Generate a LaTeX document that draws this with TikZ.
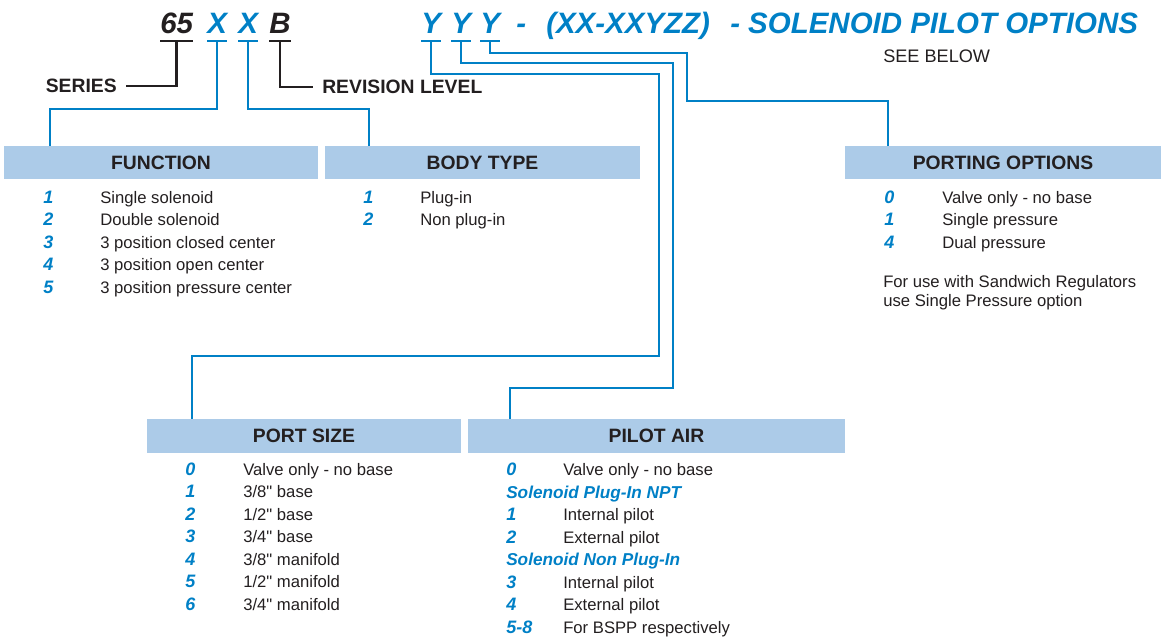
\documentclass[tikz,border=0pt]{standalone}
\usepackage{fontspec}
\setmainfont{Liberation Sans}[Ligatures=TeXOff]
\definecolor{codeblue}{RGB}{0,128,198}
\definecolor{barblue}{RGB}{172,203,232}
\definecolor{ink}{RGB}{35,31,32}
\tikzset{
  code/.style={anchor=base west, inner sep=0pt, font=\fontsize{22.1}{24}\selectfont\bfseries\itshape},
  tag/.style={inner ysep=0pt, inner xsep=6.75pt, text=ink, font=\fontsize{14.5}{16}\selectfont\bfseries},
  bar/.style={fill=barblue, inner sep=0pt, minimum height=25pt, text=ink, font=\fontsize{14.5}{16}\selectfont\bfseries},
  num/.style={anchor=base west, inner sep=0pt, text=codeblue, font=\fontsize{13.5}{15}\selectfont\bfseries\itshape},
  item/.style={anchor=base west, inner sep=0pt, text=ink, font=\fontsize{12.5}{14}\selectfont},
  subhead/.style={anchor=base west, inner sep=0pt, text=codeblue, font=\fontsize{12.9}{14}\selectfont\bfseries\itshape},
  lead/.style={codeblue, line width=1.8pt},
  blacklead/.style={ink, line width=1.8pt},
}
\begin{document}
\begin{tikzpicture}[x=0.75pt,y=-0.75pt]
\useasboundingbox (0,0) rectangle (1161,639);
% part number
\node[code, text=ink] (t65) at (160,33) {65};
\node[code, text=codeblue] (tx1) at (207,33) {X};
\node[code, text=codeblue] (tx2) at (238,33) {X};
\node[code, text=ink] (tb) at (269,33) {B};
\node[code, text=codeblue] (ty1) at (421,33) {Y};
\node[code, text=codeblue] (ty2) at (451,33) {Y};
\node[code, text=codeblue] (ty3) at (480,33) {Y};
\node[code, text=codeblue] (tdash) at (516,33) {-};
\node[code, text=codeblue] (tparen) at (546,33) {(XX-XXYZZ)};
\node[code, text=codeblue] (trest) at (730,33) {- SOLENOID PILOT OPTIONS};
\node[item, font=\fontsize{13.6}{15}\selectfont] (below) at (883,62) {SEE BELOW};
% underlines
\foreach \t in {t65,tb}
  \draw[blacklead, line width=2.2pt] ([yshift=-6pt]\t.base west) -- ([yshift=-6pt]\t.base east) coordinate[midway] (u\t);
\foreach \t in {tx1,tx2,ty1,ty2,ty3}
  \draw[lead, line width=2.2pt] ([yshift=-6pt]\t.base west) -- ([yshift=-6pt]\t.base east) coordinate[midway] (u\t);
% series and revision
\node[tag, anchor=east] (series) at (126,86) {SERIES};
\node[tag, anchor=west] (revision) at (313,87) {REVISION LEVEL};
\draw[blacklead] (ut65) |- (series.east);
\draw[blacklead] (utb) |- (revision.west);
% header bars
\node[bar, minimum width=235.5pt] (fnbar) at (161,162.75) {FUNCTION};
\node[bar, minimum width=236.25pt] (bodybar) at (482.5,162.75) {BODY TYPE};
\node[bar, minimum width=237pt] (portbar) at (1003,162.75) {PORTING OPTIONS};
\node[bar, minimum width=235.5pt] (sizebar) at (304,436) {PORT SIZE};
\node[bar, minimum width=282.75pt] (pilotbar) at (656.5,436) {PILOT AIR};
% leads
\draw[lead] (utx1) |- (50,109) -- (fnbar.north -| 50,0);
\draw[lead] (utx2) |- (369,109) -- (bodybar.north -| 369,0);
\draw[lead] (uty1) |- (659,74) |- (192,356) -- (sizebar.north -| 192,0);
\draw[lead] (uty2) |- (673,63) |- (510,388) -- (pilotbar.north -| 510,0);
\draw[lead] (uty3) |- (687,53) |- (888,101) -- (portbar.north -| 888,0);
% function
\foreach \n/\txt [count=\i] in {1/Single solenoid, 2/Double solenoid, 3/3 position closed center, 4/3 position open center, 5/3 position pressure center} {
  \node[num] (fnnum\i) at (43,180.5+22.5*\i) {\n};
  \node[item] (fnitem\i) at (100,180.5+22.5*\i) {\txt};
}
% body type
\foreach \n/\txt [count=\i] in {1/Plug-in, 2/Non plug-in} {
  \node[num] (bodynum\i) at (363,180.5+22.5*\i) {\n};
  \node[item] (bodyitem\i) at (420,180.5+22.5*\i) {\txt};
}
% porting options
\foreach \n/\txt [count=\i] in {0/Valve only - no base, 1/Single pressure, 4/Dual pressure} {
  \node[num] (portnum\i) at (884,180.5+22.5*\i) {\n};
  \node[item] (portitem\i) at (942,180.5+22.5*\i) {\txt};
}
\node[item] (portnote1) at (883,287) {For use with Sandwich Regulators};
\node[item] (portnote2) at (883,306) {use Single Pressure option};
% port size
\foreach \n/\txt [count=\i] in {0/{Valve only - no base}, 1/{3/8" base}, 2/{1/2" base}, 3/{3/4" base}, 4/{3/8" manifold}, 5/{1/2" manifold}, 6/{3/4" manifold}} {
  \node[num] (sizenum\i) at (185,453.05+22.45*\i) {\n};
  \node[item] (sizeitem\i) at (243,453.05+22.45*\i) {\txt};
}
% pilot air
\node[num] (pilotnum0) at (506,475.5) {0};
\node[item] (pilotitem0) at (563,475.5) {Valve only - no base};
\node[subhead] (plugin) at (506,498) {Solenoid Plug-In NPT};
\node[num] (pilotnum1) at (506,520.5) {1};
\node[item] (pilotitem1) at (563,520.5) {Internal pilot};
\node[num] (pilotnum2) at (506,543) {2};
\node[item] (pilotitem2) at (563,543) {External pilot};
\node[subhead] (nonplugin) at (506,565.5) {Solenoid Non Plug-In};
\node[num] (pilotnum3) at (506,588) {3};
\node[item] (pilotitem3) at (563,588) {Internal pilot};
\node[num] (pilotnum4) at (506,610.5) {4};
\node[item] (pilotitem4) at (563,610.5) {External pilot};
\node[num] (pilotnum5) at (506,633) {5-8};
\node[item] (pilotitem5) at (563,633) {For BSPP respectively};
\end{tikzpicture}
\end{document}
